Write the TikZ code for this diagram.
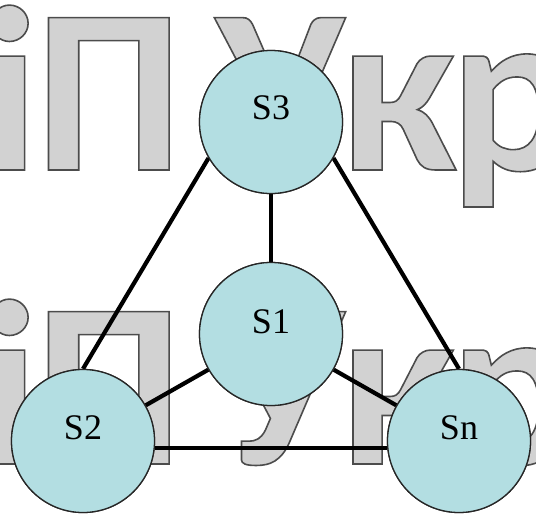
\documentclass[tikz,border=0pt]{standalone}
\usepackage{fontspec}
\setmainfont{Liberation Serif}
\newfontfamily\wmfont{Carlito}
\definecolor{nodefill}{HTML}{B3DEE2}
\definecolor{wmfill}{HTML}{D2D2D2}
\newcommand{\wmtext}[1]{\special{pdf:code 2 Tr 1.6 w 0.3 0.3 0.3 RG}#1\special{pdf:code 0 Tr}}
\tikzset{
  wm/.style={inner sep=0pt, text=wmfill, font=\wmfont\bfseries\fontsize{235}{235}\selectfont},
  stn/.style={circle, draw=black!85, line width=1.3pt, fill=nodefill, minimum size=143pt, inner sep=0pt},
  lab/.style={inner sep=0pt, font=\fontsize{36}{40}\selectfont},
  link/.style={line width=4.2pt, black}
}
\begin{document}
\begin{tikzpicture}[x=1pt,y=-1pt]
\useasboundingbox (0,0) rectangle (536,514);
\begin{scope}
\clip (0,0) rectangle (536,514);
\foreach \dy/\r in {0/a,294/b}{
  \node[wm, anchor=base east] (wi\r) at (39,170+\dy) {\wmtext{і}};
  \node[wm, anchor=base west] (wp\r) at (34.6,170+\dy) {\wmtext{П}};
  \node[wm, anchor=base] (wu\r) at (280,170+\dy) {\wmtext{У}};
  \node[wm, anchor=base west] (wk\r) at (339.6,170+\dy) {\wmtext{к}};
  \node[wm, anchor=base west] (wr\r) at (449.6,170+\dy) {\wmtext{р}};
}
\end{scope}
\node[stn] (s3) at (271,122) {};
\node[stn] (s1) at (271,334) {};
\node[stn] (s2) at (83,441) {};
\node[stn] (sn) at (459,441) {};
\draw[link] (s3.210) -- (s2.north);
\draw[link] (s3.-30) -- (sn.north);
\draw[link] (s3.south) -- (s1.north);
\draw[link] (s1) -- (s2);
\draw[link] (s1) -- (sn);
\draw[link] ([yshift=-7pt]s2.east) -- ([yshift=-7pt]sn.west);
\node[stn] at (s3) {};
\node[stn] at (s1) {};
\node[stn] at (s2) {};
\node[stn] at (sn) {};
\node[lab] (l3) at (271,108) {S3};
\node[lab] (l1) at (271,322) {S1};
\node[lab] (l2) at (83,428) {S2};
\node[lab] (ln) at (459,428) {Sn};
\end{tikzpicture}
\end{document}
